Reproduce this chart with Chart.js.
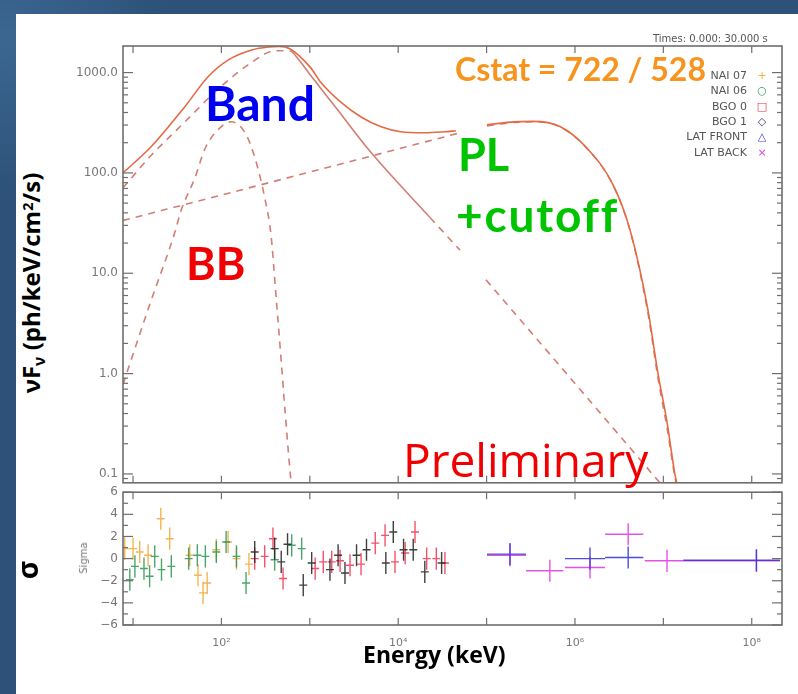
<!DOCTYPE html>
<html>
<head>
<meta charset="utf-8">
<script src="https://cdn.jsdelivr.net/npm/chart.js@4.4.1/dist/chart.umd.min.js"></script>
<style>
  body { margin: 0; width: 798px; height: 694px; overflow: hidden; position: relative;
         background: radial-gradient(circle at 10px 40px, #3b6791 0, #2d5178 160px); }
  #sheet { position: absolute; left: 16px; top: 14px; width: 782px; height: 680px; background: #fff; }
  canvas { position: absolute; }
  .lbl { position: absolute; white-space: nowrap; line-height: 1; }
  .big { font-family: Lato, sans-serif; font-weight: 700; }
  .rot { transform: translate(-50%, -50%) rotate(-90deg); }
  .axt { font-family: "Open Sans", sans-serif; font-weight: 700; color: #000; }
  .axt sub { font-size: 0.65em; vertical-align: -0.3em; }
  .axt sup { font-size: 0.6em; vertical-align: 0.5em; }
  .small { font-family: "DejaVu Sans", sans-serif; color: #555; }
  .leg { position: absolute; right: 51px; font: 11px "DejaVu Sans", sans-serif; color: #555; line-height: 1; }
  .sym { position: absolute; left: 756px; width: 12px; text-align: center; font: 11px "DejaVu Sans", sans-serif; line-height: 1; }
</style>
</head>
<body>
<div id="sheet"></div>
<canvas id="spec" width="740" height="465" style="left:50px; top:30px;"></canvas>
<canvas id="resid" width="740" height="180" style="left:50px; top:480px;"></canvas>

<div class="lbl small" style="left:653px; top:34px; font-size:10px;">Times: 0.000: 30.000 s</div>
<div class="lbl big" style="left:455px; top:53px; font-size:32px; color:#f7941d;">Cstat = 722 / 528</div>
<div class="lbl big" style="left:205px; top:79px; font-size:48px; color:#0000f0;">Band</div>
<div class="lbl big" style="left:186px; top:241px; font-size:45px; color:#f00000;">BB</div>
<div class="lbl big" style="left:458px; top:132px; font-size:45px; color:#00c400;">PL</div>
<div class="lbl big" style="left:456px; top:192px; font-size:46px; letter-spacing:1.8px; color:#00c400;">+cutoff</div>
<div class="lbl" style="left:403px; top:428px; font: 46px 'Open Sans', sans-serif; color:#f00000;">Preliminary</div>

<div class="leg" style="top:70px;">NAI 07</div>
<div class="leg" style="top:85px;">NAI 06</div>
<div class="leg" style="top:101px;">BGO 0</div>
<div class="leg" style="top:116px;">BGO 1</div>
<div class="leg" style="top:131px;">LAT FRONT</div>
<div class="leg" style="top:147px;">LAT BACK</div>
<div class="sym" style="top:70px; color:#f2b13c;">+</div>
<div class="sym" style="top:85px; color:#2e9e5a;">○</div>
<div class="sym" style="top:101px; color:#ec2c48;">□</div>
<div class="sym" style="top:116px; color:#303060;">◇</div>
<div class="sym" style="top:131px; color:#3b3bd4;">△</div>
<div class="sym" style="top:147px; color:#e040e0;">×</div>

<div class="lbl axt rot" style="left:33px; top:283px; font-size:24px;">νF<sub>ν</sub> (ph/keV/cm<sup>2</sup>/s)</div>
<div class="lbl axt rot" style="left:27px; top:570px; font-size:28px;">σ</div>
<div class="lbl small rot" style="left:84px; top:558px; font-size:10px; color:#777;">Sigma</div>
<div class="lbl axt" style="left:363px; top:643px; font-size:23px;">Energy (keV)</div>

<script>
// axis ranges (keV, ph/keV/cm2/s, sigma)
const E_MIN = 7.7, E_MAX = 2.2e8;
const F_MIN = 0.0816, F_MAX = 1840;
const S_MIN = -6, S_MAX = 6;

const fluxTickValues = [0.1, 1, 10, 100, 1000];
const fluxTickLabels = ['0.1', '1.0', '10.0', '100.0', '1000.0'];
const sigmaTickValues = [-6, -4, -2, 0, 2, 4, 6];
const sigmaTickLabels = ['−6', '−4', '−2', '0', '2', '4', '6'];
const energyTickValues = [1e2, 1e4, 1e6, 1e8];
const energyTickLabels = ['10²', '10⁴', '10⁶', '10⁸'];

// model curves, GBM range
const totalGbmE = [7.7, 16, 39, 71, 120, 220, 340, 450, 600, 1020, 1330, 2240, 3800, 6400, 10700, 19800, 33300, 45000];
const totalGbmF = [100, 182, 463, 915, 1340, 1680, 1800, 1820, 1720, 1120, 800, 507, 361, 288, 257, 251, 257, 263];
const bandGbmE = [7.7, 16, 38.7, 91, 216, 404, 600, 750, 1005, 2000, 4800, 22900, 50000];
const bandGbmF = [71, 149, 323, 680, 1250, 1650, 1640, 1340, 955, 440, 164, 35.9, 17.0];
const bbE = [7.7, 15.6, 29.9, 34.9, 50.3, 65.3, 99, 128, 185, 240, 311, 364, 415, 470, 525, 612, 640];
const bbF = [0.78, 5.0, 26, 42, 90, 175, 288, 323, 252, 140, 55, 24, 5.9, 1.5, 0.42, 0.085, 0.06];
const plGbmE = [7.7, 735, 50000];
const plGbmF = [33.6, 95, 251];

// model curves, LAT range
const bandLatE = [98400, 870000, 9.1e6];
const bandLatF = [8.6, 0.92, 0.082];
const cutLatE = [1.01e5, 1.84e5, 3.35e5, 6.76e5, 1.37e6, 2.69e6, 4.19e6, 6.7e6, 8.7e6, 1.1e7, 1.35e7, 1.45e7];
const cutLatF = [294, 316, 323, 288, 175, 75.9, 26.8, 4.0, 0.90, 0.29, 0.093, 0.07];
const totalLatE = [1.01e5, 1.84e5, 3.35e5, 6.76e5, 1.37e6, 2.69e6, 4.19e6, 6.7e6, 8.7e6, 1.1e7, 1.35e7, 1.45e7];
const totalLatF = [301, 321, 326, 290, 176, 76.5, 27.2, 4.3, 1.0, 0.33, 0.1, 0.075];

// residuals (sigma) per detector
const nai07E = [8.05, 10, 11.9, 14.8, 20.6, 26, 43.8, 54.3, 62, 69, 87.6, 119, 148, 205];
const nai07S = [0.9, 0.9, 0.6, 0.3, 3.6, 1.8, 0.3, -1.5, -3.1, -2.2, 0.8, 1.5, 0.0, -0.5];
const nai06E = [9.2, 10.5, 13.3, 15.4, 17.6, 21, 27.1, 42.6, 53.4, 65.8, 87.6, 113, 148, 190, 400, 624, 809];
const nai06S = [-1.9, -0.7, -0.9, -1.6, 0.2, -1.0, -0.7, 0.0, 0.3, 0.2, 0.6, 1.5, 0.2, -2.2, -0.1, 1.2, 0.9];
const bgo0E = [238, 309, 383, 498, 1150, 1420, 1770, 2200, 2850, 3800, 5500, 7100, 9200, 12000, 15500, 21000, 27000, 33800];
const bgo0S = [0.0, 0.2, 1.8, -1.8, -0.9, -0.3, -0.3, -0.2, -0.6, -0.5, 1.4, 2.1, -0.3, 0.5, 2.4, 0.0, 0.0, -0.4];
const bgo1E = [238, 400, 475, 560, 843, 1050, 1690, 2090, 2500, 3380, 4380, 7250, 8800, 11500, 14800, 20000, 31000];
const bgo1S = [0.6, 0.9, -0.3, 1.3, -2.4, -0.4, -1.0, 0.3, -1.3, 0.3, 0.8, -0.4, 2.4, 0.8, 0.8, -1.2, -0.4];
const latFrontE = [1.84e5, 1.48e6, 4.0e6, 1.13e8];
const latFrontLo = [1.01e5, 7.7e5, 2.19e6, 1.68e7];
const latFrontHi = [2.79e5, 2.19e6, 5.93e6, 2.09e8];
const latFrontS = [0.4, 0.0, 0.1, -0.15];
const latBackE = [1.84e5, 5.2e5, 1.48e6, 4.0e6, 1.1e7, 1.13e8];
const latBackLo = [1.01e5, 2.79e5, 7.7e5, 2.19e6, 6.17e6, 1.68e7];
const latBackHi = [2.79e5, 7.38e5, 2.19e6, 5.93e6, 1.68e7, 2.09e8];
const latBackS = [0.3, -1.1, -0.8, 2.2, -0.2, -0.2];

const GBM_BIN = 0.045;   // half bin width in dex for the GBM channels

const SOLID = '#e46a45';
const DASHED = 'rgba(205,112,100,0.9)';
const tickFont = { family: 'DejaVu Sans', size: 12 };

function pts(xs, ys) {
  return xs.map((x, i) => ({ x: x, y: ys[i] }));
}
function gbmPts(xs, ys) {
  const f = Math.pow(10, GBM_BIN);
  return xs.map((x, i) => ({ x: x, y: ys[i], lo: x / f, hi: x * f }));
}
function latPts(xs, lo, hi, ys) {
  return xs.map((x, i) => ({ x: x, y: ys[i], lo: lo[i], hi: hi[i] }));
}
function curve(data, dashed) {
  return {
    data: data, borderColor: dashed ? DASHED : SOLID, borderWidth: 1.6,
    borderDash: dashed ? [7, 6] : [], pointRadius: 0, fill: false,
    cubicInterpolationMode: 'monotone'
  };
}

// minor ticks for the log flux axis
const fluxMinor = [];
for (let d = 0.01; d <= 1000; d *= 10) {
  for (let m = 2; m <= 9; m++) {
    const v = +(m * d).toPrecision(3);
    if (v > F_MIN && v < F_MAX) fluxMinor.push(v);
  }
}
const decades = [10, 100, 1e3, 1e4, 1e5, 1e6, 1e7, 1e8];

// frame and inward tick marks, IDL style
const frameTicks = {
  id: 'frameTicks',
  afterDraw(chart, args, opts) {
    const { ctx, chartArea: a, scales } = chart;
    ctx.save();
    ctx.strokeStyle = '#6e6e6e';
    const seg = (x1, y1, x2, y2) => { ctx.beginPath(); ctx.moveTo(x1, y1); ctx.lineTo(x2, y2); ctx.stroke(); };
    ctx.lineWidth = 1.2;
    decades.forEach(v => {
      const px = scales.x.getPixelForValue(v);
      seg(px, a.top, px, a.top + 7);
      seg(px, a.bottom, px, a.bottom - 7);
    });
    opts.yMajor.forEach(v => {
      const py = scales.y.getPixelForValue(v);
      seg(a.left, py, a.left + 10, py);
      seg(a.right, py, a.right - 10, py);
    });
    opts.yMinor.forEach(v => {
      const py = scales.y.getPixelForValue(v);
      seg(a.left, py, a.left + 5, py);
      seg(a.right, py, a.right - 5, py);
    });
    ctx.lineWidth = 1.6;
    ctx.strokeRect(a.left, a.top, a.width, a.height);
    ctx.restore();
  }
};

// residual crosses: ±1 sigma vertical, energy bin horizontal
const crosses = {
  id: 'crosses',
  afterDatasetsDraw(chart) {
    const { ctx, chartArea: a, scales } = chart;
    ctx.save();
    ctx.beginPath();
    ctx.rect(a.left, a.top, a.width, a.height);
    ctx.clip();
    chart.data.datasets.forEach(ds => {
      ctx.strokeStyle = ds.borderColor;
      ctx.lineWidth = 1.4;
      ds.data.forEach(p => {
        const x = scales.x.getPixelForValue(p.x);
        const y = scales.y.getPixelForValue(p.y);
        ctx.beginPath();
        ctx.moveTo(x, scales.y.getPixelForValue(p.y - 1));
        ctx.lineTo(x, scales.y.getPixelForValue(p.y + 1));
        ctx.moveTo(scales.x.getPixelForValue(p.lo), y);
        ctx.lineTo(scales.x.getPixelForValue(p.hi), y);
        ctx.stroke();
      });
    });
    ctx.restore();
  }
};

const bandGbm = curve(pts(bandGbmE, bandGbmF), true);
bandGbm.segment = {
  borderDash: c => (c.p0.parsed.x >= 600 && c.p1.parsed.x <= 22900) ? [] : undefined
};

new Chart(document.getElementById('spec'), {
  type: 'line',
  data: {
    datasets: [
      curve(pts(bbE, bbF), true),
      curve(pts(plGbmE, plGbmF), true),
      bandGbm,
      curve(pts(bandLatE, bandLatF), true),
      curve(pts(totalGbmE, totalGbmF), false),
      curve(pts(totalLatE, totalLatF), false),
      curve(pts(cutLatE, cutLatF), true)
    ]
  },
  options: {
    responsive: false, animation: false, events: [],
    layout: { padding: { top: 16, right: 8, bottom: 6, left: 0 } },
    plugins: {
      legend: { display: false }, tooltip: { enabled: false },
      frameTicks: { yMajor: fluxTickValues, yMinor: fluxMinor }
    },
    scales: {
      x: { type: 'logarithmic', min: E_MIN, max: E_MAX, display: false },
      y: {
        type: 'logarithmic', min: F_MIN, max: F_MAX,
        grid: { display: false, drawTicks: false }, border: { display: false },
        afterFit: s => { s.width = 73; },
        afterBuildTicks: s => { s.ticks = fluxTickValues.map(v => ({ value: v })); },
        ticks: {
          padding: 5, color: '#777', font: tickFont, autoSkip: false,
          callback: v => fluxTickLabels[fluxTickValues.indexOf(v)]
        }
      }
    }
  },
  plugins: [frameTicks]
});

const sigmaMinor = [-5, -3, -1, 1, 3, 5];

new Chart(document.getElementById('resid'), {
  type: 'scatter',
  data: {
    datasets: [
      { label: 'NAI 07', data: gbmPts(nai07E, nai07S), borderColor: 'rgba(240,168,50,0.85)' },
      { label: 'NAI 06', data: gbmPts(nai06E, nai06S), borderColor: 'rgba(40,150,80,0.85)' },
      { label: 'BGO 0', data: gbmPts(bgo0E, bgo0S), borderColor: 'rgba(236,40,70,0.8)' },
      { label: 'BGO 1', data: gbmPts(bgo1E, bgo1S), borderColor: 'rgba(30,30,30,0.85)' },
      { label: 'LAT BACK', data: latPts(latBackE, latBackLo, latBackHi, latBackS), borderColor: 'rgba(224,64,224,0.9)' },
      { label: 'LAT FRONT', data: latPts(latFrontE, latFrontLo, latFrontHi, latFrontS), borderColor: 'rgba(60,60,210,0.9)' }
    ].map(d => Object.assign(d, { pointRadius: 0 }))
  },
  options: {
    responsive: false, animation: false, events: [],
    layout: { padding: { top: 9, right: 8, bottom: 0, left: 0 } },
    plugins: {
      legend: { display: false }, tooltip: { enabled: false },
      frameTicks: { yMajor: sigmaTickValues, yMinor: sigmaMinor }
    },
    scales: {
      x: {
        type: 'logarithmic', min: E_MIN, max: E_MAX,
        grid: { display: false, drawTicks: false }, border: { display: false },
        afterFit: s => { s.height = 35; },
        afterBuildTicks: s => { s.ticks = energyTickValues.map(v => ({ value: v })); },
        ticks: {
          padding: 12, color: '#777', font: { family: 'DejaVu Sans', size: 11 },
          autoSkip: false, maxRotation: 0,
          callback: v => energyTickLabels[energyTickValues.indexOf(v)]
        }
      },
      y: {
        min: S_MIN, max: S_MAX,
        grid: { display: false, drawTicks: false }, border: { display: false },
        afterFit: s => { s.width = 73; },
        afterBuildTicks: s => { s.ticks = sigmaTickValues.map(v => ({ value: v })); },
        ticks: {
          padding: 5, color: '#777', font: tickFont, autoSkip: false,
          callback: v => sigmaTickLabels[sigmaTickValues.indexOf(v)]
        }
      }
    }
  },
  plugins: [crosses, frameTicks]
});
</script>
</body>
</html>
